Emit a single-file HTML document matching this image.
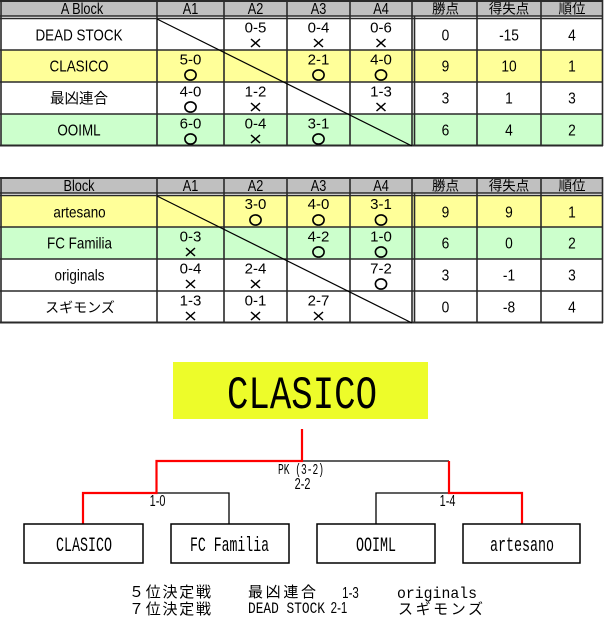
<!DOCTYPE html>
<html><head><meta charset="utf-8">
<style>
html,body{margin:0;padding:0;background:#fff;}
svg{display:block;}
.n{font-family:"Liberation Sans",sans-serif;font-size:16px;text-anchor:middle;fill:#000;}
.h{font-family:"Liberation Sans",sans-serif;font-size:15.5px;text-anchor:middle;fill:#000;}
.s{font-family:"Liberation Sans",sans-serif;font-size:15px;text-anchor:middle;fill:#000;}
.j{font-family:"Liberation Sans","Noto Sans CJK JP",sans-serif;text-anchor:middle;fill:#000;}
.m{font-family:"Liberation Mono",monospace;fill:#000;}
.d{font-family:"Liberation Sans",sans-serif;text-anchor:middle;fill:#000;font-size:16px;}
.k{font-family:"Liberation Sans","Noto Sans CJK JP",sans-serif;fill:#000;font-size:15px;}
.ln{stroke:#2a2a2a;stroke-width:1.6;fill:none;}
</style></head>
<body>
<svg width="604" height="622" viewBox="0 0 604 622" xmlns="http://www.w3.org/2000/svg">
<defs>
<g id="o"><ellipse cx="0" cy="0" rx="5.6" ry="5.1" fill="none" stroke="#000" stroke-width="1.6"/></g>
<g id="x"><path d="M-4.5 -4L4.5 4M4.5 -4L-4.5 4" stroke="#000" stroke-width="1.5" fill="none"/></g>
</defs>
<rect width="604" height="622" fill="#fff"/>

<!-- ================= TABLE 1 ================= -->
<rect x="1" y="0" width="602" height="16" fill="#c0c0c0"/>
<rect x="1" y="50" width="602" height="32" fill="#ffff99"/>
<rect x="1" y="114" width="602" height="32" fill="#ccffcc"/>
<g class="ln">
<path d="M0 1H603" stroke-width="2"/>
<path d="M0 16H603M0 18.5H603M0 50H603M0 82H603M0 114H603"/>
<path d="M0 145.5H603" stroke-width="2"/>
<path d="M1 0V146M157 0V146M224 0V146M287 0V146M350 0V146M412 0V146M477 0V146M541 0V146M602.5 0V146"/>
<path d="M414.5 16V146"/>
</g>
<path d="M157 19L412 146" stroke="#000" stroke-width="1.2"/>

<text class="h" transform="translate(82,14) scale(0.82 1)">A Block</text>
<text class="h" transform="translate(190.5,14) scale(0.82 1)">A1</text>
<text class="h" transform="translate(255.5,14) scale(0.82 1)">A2</text>
<text class="h" transform="translate(318.5,14) scale(0.82 1)">A3</text>
<text class="h" transform="translate(381,14) scale(0.82 1)">A4</text>
<text class="j" x="445.5" y="13.5" font-size="13.5">勝点</text>
<text class="j" x="509" y="13.5" font-size="13.5">得失点</text>
<text class="j" x="572" y="13.5" font-size="13.5">順位</text>

<!-- R1 -->
<text class="n" transform="translate(79,40.5) scale(0.84 1)">DEAD STOCK</text>
<text class="s" x="255.5" y="32.5">0-5</text><use href="#x" x="255.5" y="43"/>
<text class="s" x="318.5" y="32.5">0-4</text><use href="#x" x="318.5" y="43"/>
<text class="s" x="381" y="32.5">0-6</text><use href="#x" x="381" y="43"/>
<text class="n" transform="translate(445.5,40.5) scale(0.86 1)">0</text>
<text class="n" transform="translate(509,40.5) scale(0.86 1)">-15</text>
<text class="n" transform="translate(572,40.5) scale(0.86 1)">4</text>
<!-- R2 -->
<text class="n" transform="translate(79,71.5) scale(0.84 1)">CLASICO</text>
<text class="s" x="190.5" y="64.5">5-0</text><use href="#o" x="190.5" y="75"/>
<text class="s" x="318.5" y="64.5">2-1</text><use href="#o" x="318.5" y="75"/>
<text class="s" x="381" y="64.5">4-0</text><use href="#o" x="381" y="75"/>
<text class="n" transform="translate(445.5,71.5) scale(0.86 1)">9</text>
<text class="n" transform="translate(509,71.5) scale(0.86 1)">10</text>
<text class="n" transform="translate(572,71.5) scale(0.86 1)">1</text>
<!-- R3 -->
<text class="j" x="79" y="103.5" font-size="14.5">最凶連合</text>
<text class="s" x="190.5" y="96.5">4-0</text><use href="#o" x="190.5" y="107"/>
<text class="s" x="255.5" y="96.5">1-2</text><use href="#x" x="255.5" y="107"/>
<text class="s" x="381" y="96.5">1-3</text><use href="#x" x="381" y="107"/>
<text class="n" transform="translate(445.5,103.5) scale(0.86 1)">3</text>
<text class="n" transform="translate(509,103.5) scale(0.86 1)">1</text>
<text class="n" transform="translate(572,103.5) scale(0.86 1)">3</text>
<!-- R4 -->
<text class="n" transform="translate(79,135.5) scale(0.84 1)">OOIML</text>
<text class="s" x="190.5" y="128.5">6-0</text><use href="#o" x="190.5" y="139"/>
<text class="s" x="255.5" y="128.5">0-4</text><use href="#x" x="255.5" y="139"/>
<text class="s" x="318.5" y="128.5">3-1</text><use href="#o" x="318.5" y="139"/>
<text class="n" transform="translate(445.5,135.5) scale(0.86 1)">6</text>
<text class="n" transform="translate(509,135.5) scale(0.86 1)">4</text>
<text class="n" transform="translate(572,135.5) scale(0.86 1)">2</text>

<!-- ================= TABLE 2 ================= -->
<rect x="1" y="177" width="602" height="16" fill="#c0c0c0"/>
<rect x="1" y="196" width="602" height="31" fill="#ffff99"/>
<rect x="1" y="227" width="602" height="32" fill="#ccffcc"/>
<g class="ln">
<path d="M0 178H603" stroke-width="2"/>
<path d="M0 193H603M0 195.5H603M0 227H603M0 259H603M0 291H603"/>
<path d="M0 322.5H603" stroke-width="2"/>
<path d="M1 177V323M157 177V323M224 177V323M287 177V323M350 177V323M412 177V323M477 177V323M541 177V323M602.5 177V323"/>
<path d="M414.5 193V323"/>
</g>
<path d="M157 196L412 323" stroke="#000" stroke-width="1.2"/>

<text class="h" transform="translate(79,191) scale(0.82 1)">Block</text>
<text class="h" transform="translate(190.5,191) scale(0.82 1)">A1</text>
<text class="h" transform="translate(255.5,191) scale(0.82 1)">A2</text>
<text class="h" transform="translate(318.5,191) scale(0.82 1)">A3</text>
<text class="h" transform="translate(381,191) scale(0.82 1)">A4</text>
<text class="j" x="445.5" y="190.5" font-size="13.5">勝点</text>
<text class="j" x="509" y="190.5" font-size="13.5">得失点</text>
<text class="j" x="572" y="190.5" font-size="13.5">順位</text>

<!-- R1 -->
<text class="n" transform="translate(79.5,217.5) scale(0.84 1)">artesano</text>
<text class="s" x="255.5" y="209">3-0</text><use href="#o" x="255.5" y="220"/>
<text class="s" x="318.5" y="209">4-0</text><use href="#o" x="318.5" y="220"/>
<text class="s" x="381" y="209">3-1</text><use href="#o" x="381" y="220"/>
<text class="n" transform="translate(445.5,217.5) scale(0.86 1)">9</text>
<text class="n" transform="translate(509,217.5) scale(0.86 1)">9</text>
<text class="n" transform="translate(572,217.5) scale(0.86 1)">1</text>
<!-- R2 -->
<text class="n" transform="translate(79.5,248.5) scale(0.84 1)">FC Familia</text>
<text class="s" x="190.5" y="241.5">0-3</text><use href="#x" x="190.5" y="252"/>
<text class="s" x="318.5" y="241.5">4-2</text><use href="#o" x="318.5" y="252"/>
<text class="s" x="381" y="241.5">1-0</text><use href="#o" x="381" y="252"/>
<text class="n" transform="translate(445.5,248.5) scale(0.86 1)">6</text>
<text class="n" transform="translate(509,248.5) scale(0.86 1)">0</text>
<text class="n" transform="translate(572,248.5) scale(0.86 1)">2</text>
<!-- R3 -->
<text class="n" transform="translate(79.5,280.5) scale(0.84 1)">originals</text>
<text class="s" x="190.5" y="273.5">0-4</text><use href="#x" x="190.5" y="284"/>
<text class="s" x="255.5" y="273.5">2-4</text><use href="#x" x="255.5" y="284"/>
<text class="s" x="381" y="273.5">7-2</text><use href="#o" x="381" y="284"/>
<text class="n" transform="translate(445.5,280.5) scale(0.86 1)">3</text>
<text class="n" transform="translate(509,280.5) scale(0.86 1)">-1</text>
<text class="n" transform="translate(572,280.5) scale(0.86 1)">3</text>
<!-- R4 -->
<text class="j" x="80" y="312.5" font-size="14">スギモンズ</text>
<text class="s" x="190.5" y="305.5">1-3</text><use href="#x" x="190.5" y="316"/>
<text class="s" x="255.5" y="305.5">0-1</text><use href="#x" x="255.5" y="316"/>
<text class="s" x="318.5" y="305.5">2-7</text><use href="#x" x="318.5" y="316"/>
<text class="n" transform="translate(445.5,312.5) scale(0.86 1)">0</text>
<text class="n" transform="translate(509,312.5) scale(0.86 1)">-8</text>
<text class="n" transform="translate(572,312.5) scale(0.86 1)">4</text>

<!-- ================= BRACKET ================= -->
<rect x="173" y="362" width="255" height="57" fill="#edfc2a"/>
<text class="m" x="227" y="408" font-size="46" textLength="150" lengthAdjust="spacingAndGlyphs">CLASICO</text>

<!-- black lines -->
<g stroke="#000" stroke-width="1.3" fill="none">
<path d="M302 461H449"/>
<path d="M157 493H229V524"/>
<path d="M449 493H376V524"/>
</g>
<!-- red lines -->
<g stroke="#ff0000" stroke-width="2.2" fill="none" stroke-linejoin="miter">
<path d="M302 429V461H156.5V493H83V524"/>
<path d="M449 461V493H522V525"/>
</g>

<text class="m" x="278" y="474" font-size="15" textLength="46" lengthAdjust="spacingAndGlyphs">PK (3-2)</text>
<text class="d" transform="translate(302.5,489) scale(0.68 1)">2-2</text>
<text class="d" transform="translate(157.5,506) scale(0.68 1)">1-0</text>
<text class="d" transform="translate(447.5,506) scale(0.68 1)">1-4</text>

<g fill="#fff" stroke="#000" stroke-width="1.5">
<rect x="24" y="524" width="119" height="39"/>
<rect x="171" y="524" width="118" height="39"/>
<rect x="317" y="524" width="118" height="39"/>
<rect x="463" y="524" width="117" height="39"/>
</g>
<text class="m" x="56" y="551" font-size="20" textLength="56" lengthAdjust="spacingAndGlyphs">CLASICO</text>
<text class="m" x="190" y="551" font-size="20" textLength="79" lengthAdjust="spacingAndGlyphs">FC Familia</text>
<text class="m" x="356" y="551" font-size="20" textLength="40" lengthAdjust="spacingAndGlyphs">OOIML</text>
<text class="m" x="490" y="551" font-size="20" textLength="64" lengthAdjust="spacingAndGlyphs">artesano</text>

<!-- bottom text -->
<text class="k" x="129" y="597" textLength="82" lengthAdjust="spacing">５位決定戦</text>
<text class="k" x="248" y="597" textLength="68" lengthAdjust="spacing">最凶連合</text>
<text class="d" transform="translate(350.5,598) scale(0.72 1)">1-3</text>
<text class="m" x="397" y="598" font-size="16" textLength="80" lengthAdjust="spacingAndGlyphs">originals</text>
<text class="k" x="129" y="614" textLength="82" lengthAdjust="spacing">７位決定戦</text>
<text class="m" x="248" y="613" font-size="16" textLength="77" lengthAdjust="spacingAndGlyphs">DEAD STOCK</text>
<text class="d" transform="translate(339,613) scale(0.72 1)">2-1</text>
<text class="k" x="398" y="614" textLength="85" lengthAdjust="spacing">スギモンズ</text>
</svg>
</body></html>
